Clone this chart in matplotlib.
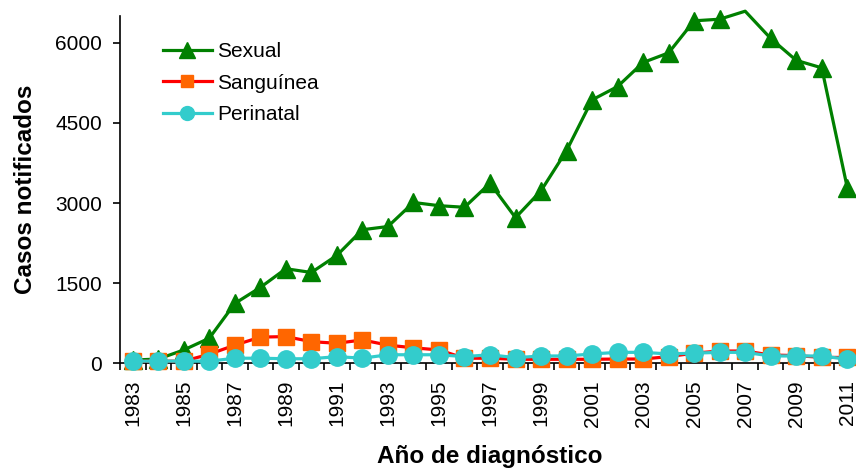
import numpy as np
import matplotlib
matplotlib.use("Agg")
import matplotlib.pyplot as plt

plt.rcParams['font.family'] = ['Liberation Sans', 'DejaVu Sans']

years = list(range(1983, 2012))
sexual = [60, 80, 250, 470, 1120, 1420, 1770, 1700, 2020, 2500, 2560, 3010, 2950,
          2920, 3370, 2725, 3230, 3980, 4930, 5180, 5630, 5810, 6410, 6440, 6590,
          6080, 5670, 5530, 3290]
sanguinea = [40, 40, 40, 170, 340, 490, 500, 405, 375, 437, 340, 290, 250,
             95, 95, 75, 75, 75, 75, 80, 80, 125, 190, 230, 230, 155, 145, 110, 110]
perinatal = [40, 40, 40, 40, 95, 95, 85, 85, 125, 95, 160, 160, 160,
             125, 160, 105, 137, 137, 175, 205, 205, 175, 190, 205, 205, 137, 137, 137, 75]
ymax = 6500

fig = plt.figure(figsize=(8.56, 4.70), dpi=100)
ax = fig.add_axes([120 / 856, 1 - 363.3 / 470, 740 / 856, 347.3 / 470])

# markers above the axis top are hidden, like the original
vis = [i for i, v in enumerate(sexual) if v <= ymax]
ax.plot(years, sexual, '-', color='#008000', lw=2.3, clip_on=False, zorder=2)
ax.plot(years, sexual, '^', color='#008000', ms=12.5, markevery=vis, zorder=2, clip_on=False)
ax.plot(years, sanguinea, '-', color='#FF0000', lw=2.3, zorder=3, clip_on=False,
        marker='s', ms=11.5, mfc='#FF6600', mec='#FF6600')
ax.plot(years, perinatal, '-', color='#33CCCC', lw=2.3, zorder=4, clip_on=False,
        marker='o', ms=12.5, mfc='#33CCCC', mec='#33CCCC')

# legend handles
h1, = ax.plot([], [], '-^', color='#008000', lw=2.3, ms=11)
h2, = ax.plot([], [], '-s', color='#FF0000', lw=2.3, ms=9, mfc='#FF6600', mec='#FF6600')
h3, = ax.plot([], [], '-o', color='#33CCCC', lw=2.3, ms=10)
ax.legend([h1, h2, h3], ['Sexual', 'Sanguínea', 'Perinatal'], loc='upper left',
          bbox_to_anchor=(0.058, 0.925), frameon=False, fontsize=15, handlelength=2.35,
          handletextpad=0.25, labelspacing=0.6, borderaxespad=0, borderpad=0)

ax.set_xlim(1982.5, 2011.5)
ax.set_ylim(0, ymax)
ax.set_yticks([0, 1500, 3000, 4500, 6000])
ax.set_xticks(years[::2])
ax.set_xticklabels([str(y) for y in years[::2]], rotation=90)
ax.set_xticks(np.arange(1982.5, 2012, 1), minor=True)
ax.tick_params(axis='x', which='major', length=0, pad=12, labelsize=15)
ax.tick_params(axis='x', which='minor', length=5, width=1.2, direction='out')
ax.tick_params(axis='y', length=5, width=1.2, direction='out', labelsize=15, pad=8)

for s in ['top', 'right']:
    ax.spines[s].set_visible(False)
for s in ['left', 'bottom']:
    ax.spines[s].set_linewidth(1.2)

ax.set_xlabel('Año de diagnóstico', fontsize=17.5, fontweight='bold', labelpad=13)
ax.set_ylabel('Casos notificados', fontsize=17.5, fontweight='bold', labelpad=13)

fig.savefig('out.png', dpi=100)
